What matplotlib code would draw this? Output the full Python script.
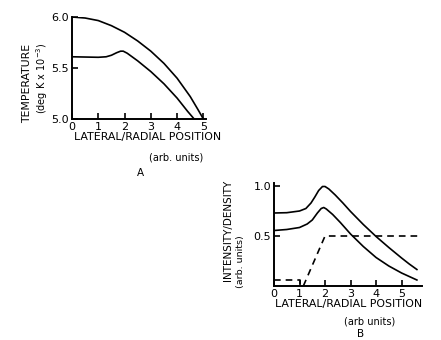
import matplotlib
matplotlib.use('Agg')
from matplotlib import pyplot as plt

# panel A: temperature vs lateral/radial position
a_x_upper = [0, 0.5, 1.0, 1.5, 2.0, 2.5, 3.0, 3.5, 4.0, 4.5, 4.8, 5.0]
a_y_upper = [6.00, 5.99, 5.965, 5.915, 5.85, 5.765, 5.665, 5.545, 5.40, 5.22, 5.09, 5.00]
a_x_lower = [0, 1.0, 1.3, 1.5, 1.7, 1.85, 1.95, 2.1, 2.5, 3.0, 3.5, 4.0, 4.4, 4.65]
a_y_lower = [5.61, 5.605, 5.61, 5.625, 5.65, 5.665, 5.665, 5.645, 5.57, 5.465, 5.345, 5.205,
             5.075, 5.00]

# panel B: intensity/density vs lateral/radial position
b_x_upper = [0, 0.5, 1.0, 1.25, 1.45, 1.6, 1.75, 1.9, 2.0, 2.15, 2.4, 2.7, 3.0, 3.5, 4.0,
             4.5, 5.0, 5.3, 5.6]
b_y_upper = [0.73, 0.733, 0.75, 0.775, 0.83, 0.89, 0.955, 0.995, 0.995, 0.97, 0.91, 0.83,
             0.745, 0.615, 0.495, 0.385, 0.28, 0.22, 0.165]
b_x_lower = [0, 0.5, 1.0, 1.3, 1.5, 1.7, 1.85, 1.95, 2.05, 2.3, 2.6, 3.0, 3.5, 4.0, 4.5,
             5.0, 5.6]
b_y_lower = [0.555, 0.565, 0.585, 0.62, 0.66, 0.73, 0.775, 0.785, 0.77, 0.715, 0.635, 0.52,
             0.395, 0.285, 0.2, 0.13, 0.06]
b_x_dash1 = [0, 1.0, 1.0]
b_y_dash1 = [0.06, 0.06, 0.0]
b_x_dash2 = [1.15, 2.0, 5.7]
b_y_dash2 = [0.0, 0.5, 0.5]

a_yticks = [5.0, 5.5, 6.0]
b_yticks = [0.5, 1.0]
xticks = [0, 1, 2, 3, 4, 5]

plt.rcParams['font.family'] = 'DejaVu Sans'
fig = plt.figure(figsize=(4.41, 3.40), dpi=100)


def style_axes(ax):
    for s in ['top', 'right']:
        ax.spines[s].set_visible(False)
    for s in ['left', 'bottom']:
        ax.spines[s].set_linewidth(1.4)
    ax.tick_params(direction='in', length=4, width=1.2, labelsize=8, pad=2)


# ---- panel A
ax1 = fig.add_axes([72 / 441, 1 - 119 / 340, 134 / 441, 102 / 340])
ax1.plot(a_x_upper, a_y_upper, color='black', lw=1.2)
ax1.plot(a_x_lower, a_y_lower, color='black', lw=1.2)
ax1.set_xlim(0, 5.1)
ax1.set_ylim(5.0, 6.0)
ax1.set_xticks(xticks)
ax1.set_yticks(a_yticks)
ax1.set_yticklabels(['5.0', '5.5', '6.0'])
style_axes(ax1)

fig.text(148 / 441, 1 - 137 / 340, 'LATERAL/RADIAL POSITION', fontsize=7.9, ha='center', va='center')
fig.text(176 / 441, 1 - 157 / 340, '(arb. units)', fontsize=7, ha='center', va='center')
fig.text(140 / 441, 1 - 173 / 340, 'A', fontsize=7.5, ha='center', va='center')
fig.text(27 / 441, 1 - 83 / 340, 'TEMPERATURE', fontsize=7.8, rotation=90, ha='center', va='center')
fig.text(42 / 441, 1 - 78 / 340, r'(deg K x 10$^{-3}$)', fontsize=7, rotation=90,
         ha='center', va='center')

# ---- panel B
ax2 = fig.add_axes([274 / 441, 1 - 286 / 340, 148 / 441, 103 / 340])
ax2.plot(b_x_upper, b_y_upper, color='black', lw=1.2)
ax2.plot(b_x_lower, b_y_lower, color='black', lw=1.2)
ax2.plot(b_x_dash1, b_y_dash1, color='black', lw=1.2, ls=(0, (4, 3)))
ax2.plot(b_x_dash2, b_y_dash2, color='black', lw=1.2, ls=(0, (4, 3)))
ax2.set_xlim(0, 5.8)
ax2.set_ylim(0, 1.03)
ax2.set_xticks(xticks)
ax2.set_yticks(b_yticks)
ax2.set_yticklabels(['0.5', '1.0'])
style_axes(ax2)

fig.text(349 / 441, 1 - 304 / 340, 'LATERAL/RADIAL POSITION', fontsize=7.9, ha='center', va='center')
fig.text(370 / 441, 1 - 321 / 340, '(arb units)', fontsize=7, ha='center', va='center')
fig.text(361 / 441, 1 - 334 / 340, 'B', fontsize=7.5, ha='center', va='center')
fig.text(228 / 441, 1 - 230 / 340, 'INTENSITY/DENSITY', fontsize=7.5, rotation=90, ha='center', va='center')
fig.text(241 / 441, 1 - 262 / 340, '(arb. units)', fontsize=6.8, rotation=90, ha='center', va='center')

fig.savefig('out.png', dpi=100)
